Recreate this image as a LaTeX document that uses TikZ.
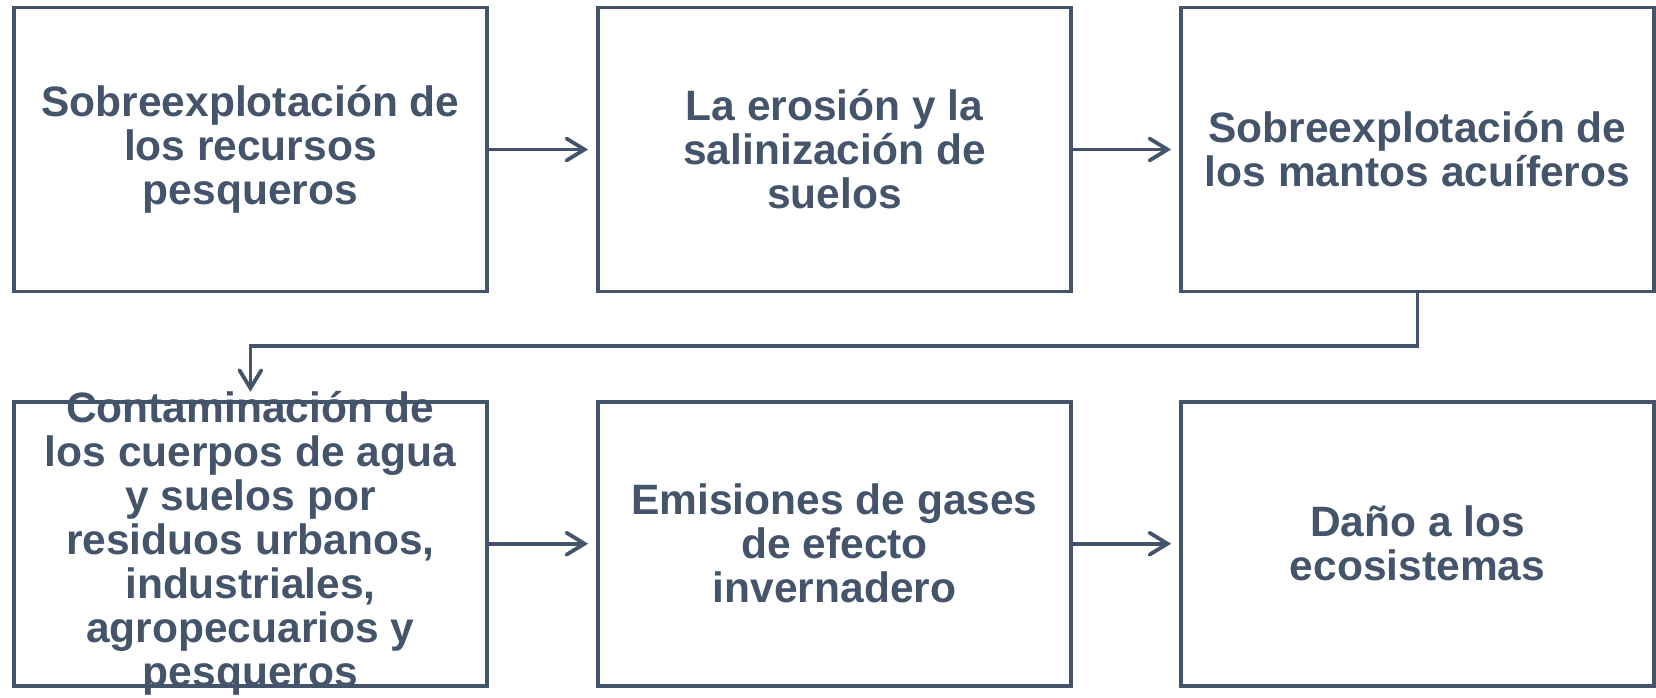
\documentclass[tikz,border=0pt]{standalone}
\usepackage{fontspec}
\setmainfont{Liberation Sans}
\usetikzlibrary{arrows.meta}
\definecolor{slate}{HTML}{44546A}
\begin{document}
\begin{tikzpicture}[x=1pt,y=-1pt,
  box/.style={draw=slate, line width=3.8pt, minimum width=473pt, minimum height=284pt,
    inner sep=0pt},
  txt/.style={inner sep=0pt, align=center, text=slate,
    font=\fontsize{42.5}{44}\selectfont\bfseries},
  conn/.style={draw=slate, line width=3.8pt,
    -{Straight Barb[length=18pt,width=22pt,line width=3.8pt,line cap=round]}, shorten >=8pt}]
\useasboundingbox (0,0) rectangle (1656,697);
\node[box] (b1) at (250.4,149.5) {};
\node[box] (b2) at (834.5,149.5) {};
\node[box] (b3) at (1417.5,149.5) {};
\node[box] (b4) at (250.4,543.7) {};
\node[box] (b5) at (834.5,543.7) {};
\node[box] (b6) at (1417.5,543.7) {};
\node[txt] (t1) at (b1) {Sobreexplotación de\\los recursos\\pesqueros};
\node[txt] (t2) at (b2) {La erosión y la\\salinización de\\suelos};
\node[txt] (t3) at (b3) {Sobreexplotación de\\los mantos acuíferos};
\node[txt] (t4) at (b4) {Contaminación de\\los cuerpos de agua\\y suelos por\\residuos urbanos,\\industriales,\\agropecuarios y\\pesqueros};
\node[txt] (t5) at (b5) {Emisiones de gases\\de efecto\\invernadero};
\node[txt] (t6) at (b6) {Daño a los\\ecosistemas};
\coordinate (m) at (1417.5,346);
\draw[conn] (b1) -- (b2);
\draw[conn] (b2) -- (b3);
\draw[conn] (b3.south) -- (m) -| (b4.north);
\draw[conn] (b4) -- (b5);
\draw[conn] (b5) -- (b6);
\end{tikzpicture}
\end{document}
